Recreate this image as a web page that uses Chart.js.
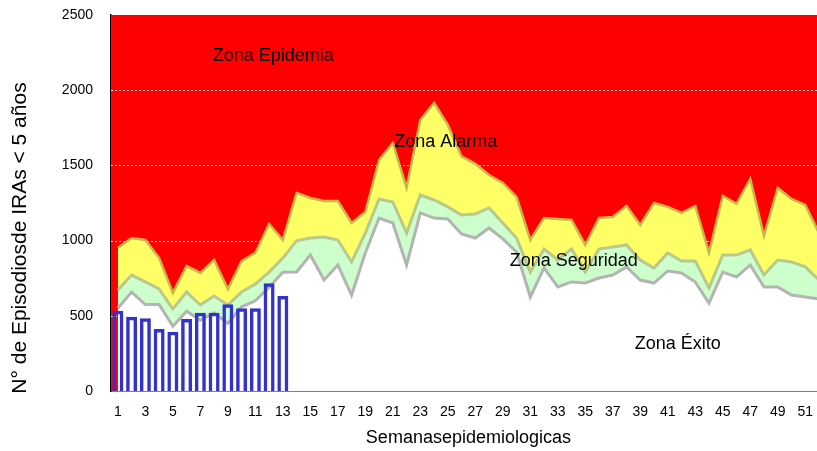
<!DOCTYPE html>
<html>
<head>
<meta charset="utf-8">
<script src="https://cdn.jsdelivr.net/npm/chart.js@4/dist/chart.umd.min.js"></script>
<style>
  html, body { margin: 0; padding: 0; background: #fff; overflow: hidden; }
  #wrap { width: 832px; height: 451px; }
</style>
</head>
<body>
<div id="wrap"><canvas id="chart"></canvas></div>
<script>
// semanas epidemiologicas
const semanas = ["1","2","3","4","5","6","7","8","9","10","11","12","13","14","15","16","17","18","19","20",
  "21","22","23","24","25","26","27","28","29","30","31","32","33","34","35","36","37","38","39","40",
  "41","42","43","44","45","46","47","48","49","50","51","52"];

// limite superior zona alarma (amarillo)
const alarma = [951,1017,1004,884,652,831,785,871,678,864,918,1110,1004,1317,1283,1263,1263,1117,1190,1536,
  1649,1350,1802,1915,1769,1560,1510,1436,1383,1290,1004,1150,1144,1137,971,1150,1157,1230,1104,1250,
  1224,1184,1230,918,1297,1244,1410,1031,1350,1277,1237,1050];

// limite superior zona seguridad (verde)
const seguridad = [672,771,725,678,545,658,572,632,572,658,711,791,884,998,1017,1024,1004,858,1050,1277,
  1257,1050,1303,1270,1224,1170,1177,1217,1117,1017,791,944,871,944,791,944,958,971,871,818,
  918,864,864,685,904,904,938,771,871,858,825,738];

// limite superior zona exito (blanco)
const exito = [550,658,575,575,430,530,470,520,450,560,600,690,790,791,904,738,838,638,918,1150,
  1117,838,1184,1150,1144,1044,1017,1084,1011,924,625,818,692,725,718,751,771,825,738,718,
  798,785,725,585,791,758,838,692,692,638,625,612];

// episodios observados
const episodios = [534,494,483,412,394,479,521,521,576,550,550,716,632];

const yTicks = [0, 500, 1000, 1500, 2000, 2500];

const zonas = [
  { text: "Zona Epidemia", week: 7.9, value: 2228 },
  { text: "Zona Alarma", week: 21.1, value: 1655 },
  { text: "Zona Seguridad", week: 29.5, value: 865 },
  { text: "Zona Éxito", week: 38.6, value: 315 }
];

const font = "'Liberation Sans', Arial, sans-serif";

// fondo rojo + lineas de guia punteadas (quedan detras de las areas)
const zonaBackground = {
  id: "zonaBackground",
  beforeDatasetsDraw(chart) {
    const { ctx, chartArea } = chart;
    const y = chart.scales.y;
    ctx.save();
    ctx.fillStyle = "#FF0000";
    ctx.fillRect(chartArea.left, chartArea.top, chartArea.right - chartArea.left, chartArea.bottom - chartArea.top);
    ctx.strokeStyle = "rgba(255,255,255,0.85)";
    ctx.lineWidth = 1;
    ctx.setLineDash([2, 2]);
    yTicks.slice(1, -1).forEach(v => {
      const py = Math.round(y.getPixelForValue(v)) + 0.5;
      ctx.beginPath();
      ctx.moveTo(chartArea.left, py);
      ctx.lineTo(chartArea.right, py);
      ctx.stroke();
    });
    ctx.restore();
  }
};

const zonaLabels = {
  id: "zonaLabels",
  afterDatasetsDraw(chart) {
    const { ctx } = chart;
    const x = chart.scales.x, y = chart.scales.y;
    const step = x.getPixelForValue(1) - x.getPixelForValue(0);
    ctx.save();
    ctx.fillStyle = "#000";
    ctx.font = "18px " + font;
    ctx.textAlign = "left";
    ctx.textBaseline = "middle";
    zonas.forEach(z => {
      const px = x.getPixelForValue(0) + (z.week - 1) * step;
      ctx.fillText(z.text, px, y.getPixelForValue(z.value));
    });
    ctx.restore();
  }
};

new Chart(document.getElementById("chart"), {
  data: {
    labels: semanas,
    datasets: [
      {
        type: "bar",
        label: "Episodios",
        data: episodios,
        backgroundColor: "transparent",
        borderColor: "#3333CC",
        borderWidth: 3.5,
        barPercentage: 0.8,
        categoryPercentage: 1,
        order: 0
      },
      {
        type: "line",
        label: "Exito",
        data: exito,
        fill: "origin",
        backgroundColor: "#FFFFFF",
        borderColor: "#B4B4B4",
        borderWidth: 3,
        pointRadius: 0,
        tension: 0,
        order: 1
      },
      {
        type: "line",
        label: "Seguridad",
        data: seguridad,
        fill: "origin",
        backgroundColor: "#CCFFCC",
        borderColor: "#B8C890",
        borderWidth: 3,
        pointRadius: 0,
        tension: 0,
        order: 2
      },
      {
        type: "line",
        label: "Alarma",
        data: alarma,
        fill: "origin",
        backgroundColor: "#FFFF66",
        borderColor: "#C8B848",
        borderWidth: 2.5,
        pointRadius: 0,
        tension: 0,
        order: 3
      }
    ]
  },
  options: {
    responsive: true,
    maintainAspectRatio: false,
    animation: false,
    layout: { padding: { top: 15, right: 2, left: 0, bottom: 0 } },
    plugins: {
      legend: { display: false },
      tooltip: { enabled: false }
    },
    scales: {
      x: {
        offset: true,
        grid: { display: false, drawTicks: false },
        border: { display: true, color: "#000", width: 1.5 },
        ticks: {
          autoSkip: false,
          maxRotation: 0,
          padding: 13,
          color: "#000",
          font: { family: font, size: 14 },
          callback: function(val, i) { return i % 2 === 0 ? this.getLabelForValue(val) : ""; }
        },
        title: {
          display: true,
          text: "Semanasepidemiologicas",
          color: "#000",
          font: { family: font, size: 18 },
          padding: { top: 0, bottom: 2 }
        },
        afterFit(scale) { scale.height = 60; }
      },
      y: {
        min: 0,
        max: 2500,
        afterBuildTicks(scale) { scale.ticks = yTicks.map(v => ({ value: v })); },
        grid: { display: false, drawTicks: false },
        border: { display: true, color: "#000", width: 1.5 },
        ticks: {
          padding: 18,
          color: "#000",
          font: { family: font, size: 14 },
          callback: v => String(v)
        },
        title: {
          display: true,
          // espacios al final para bajar el titulo como en el original
          text: "N° de Episodiosde IRAs < 5 años" + "\u00A0".repeat(12),
          color: "#000",
          font: { family: font, size: 21 },
          padding: { top: 8, bottom: 0 }
        },
        afterFit(scale) {
          scale.width = 111;
          scale.paddingTop = 0;
          scale.paddingBottom = 0;
        }
      }
    }
  },
  plugins: [zonaBackground, zonaLabels]
});
</script>
</body>
</html>
